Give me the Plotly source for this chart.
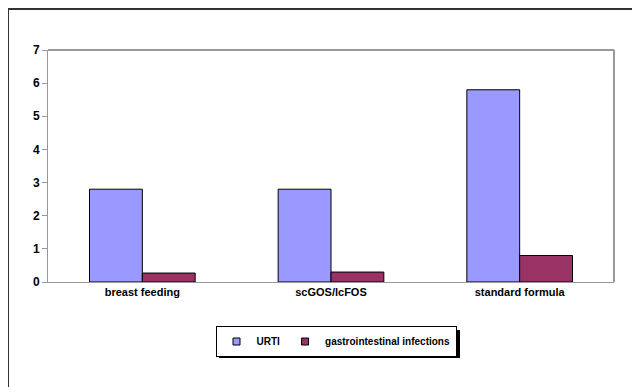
import plotly.graph_objects as go

categories = ["breast feeding", "scGOS/lcFOS", "standard formula"]
urti = [2.8, 2.8, 5.8]
gastro = [0.27, 0.3, 0.8]
y_ticks = [0, 1, 2, 3, 4, 5, 6, 7]

OFF = 8  # page body margin
W, H = 640 - OFF, 387 - OFF
L, R, T, B = 48 - OFF, 614 - OFF, 50 - OFF, 282 - OFF

def px(x):
    return (x - OFF - L) / (R - L)

def py(y):
    return (B - (y - OFF)) / (B - T)

fnt = "Liberation Sans, Arial, sans-serif"

fig = go.Figure()
fig.add_trace(go.Bar(name="URTI", x=categories, y=urti, showlegend=False,
                     marker=dict(color="#9999FF", line=dict(color="#000000", width=1))))
fig.add_trace(go.Bar(name="gastrointestinal infections", x=categories, y=gastro, showlegend=False,
                     marker=dict(color="#993366", line=dict(color="#000000", width=1))))
# legend entries
fig.add_trace(go.Scatter(name="URTI", x=[None], y=[None], mode="markers",
                         marker=dict(symbol="square", size=7, color="#9999FF",
                                     line=dict(color="#000000", width=1))))
fig.add_trace(go.Scatter(name="gastrointestinal infections", x=[None], y=[None], mode="markers",
                         marker=dict(symbol="square", size=7, color="#993366",
                                     line=dict(color="#000000", width=1))))

fig.update_layout(
    width=W, height=H,
    margin=dict(l=L, r=W - R, t=T, b=H - B),
    paper_bgcolor="white", plot_bgcolor="white",
    barmode="group", bargap=0.44, bargroupgap=0,
    font=dict(family=fnt, size=11, color="#000000"),
    showlegend=True,
    legend=dict(orientation="h", x=px(336), xanchor="center", y=py(326), yanchor="top",
                bgcolor="white", bordercolor="#000000", borderwidth=1,
                font=dict(family=fnt, size=10, color="#000000", weight="bold"),
                itemwidth=30, tracegroupgap=0),
    xaxis=dict(showline=True, linecolor="#999999", linewidth=1, ticks="",
               tickfont=dict(family=fnt, size=11, color="#000000", weight="bold")),
    yaxis=dict(range=[0, 7], tickvals=y_ticks, showgrid=False, zeroline=False,
               showline=True, linecolor="#999999", linewidth=1, ticks="outside",
               ticklen=5, tickcolor="#999999",
               tickfont=dict(family=fnt, size=12, color="#000000", weight="bold")),
    shapes=[
        dict(type="line", xref="paper", yref="paper", x0=0, x1=1, y0=1, y1=1,
             line=dict(color="#999999", width=2)),
        dict(type="line", xref="paper", yref="paper", x0=1, x1=1, y0=0, y1=1,
             line=dict(color="#999999", width=2)),
        dict(type="line", xref="paper", yref="paper", x0=px(8), x1=px(640), y0=py(9), y1=py(9),
             line=dict(color="#333333", width=2)),
        dict(type="line", xref="paper", yref="paper", x0=px(8), x1=px(8), y0=py(9), y1=py(387),
             line=dict(color="#333333", width=2)),
        dict(type="rect", xref="paper", yref="paper", x0=px(219), x1=px(460), y0=py(358), y1=py(330),
             fillcolor="#000000", line=dict(width=0), layer="below"),
    ],
)

fig.write_html("out.html")
